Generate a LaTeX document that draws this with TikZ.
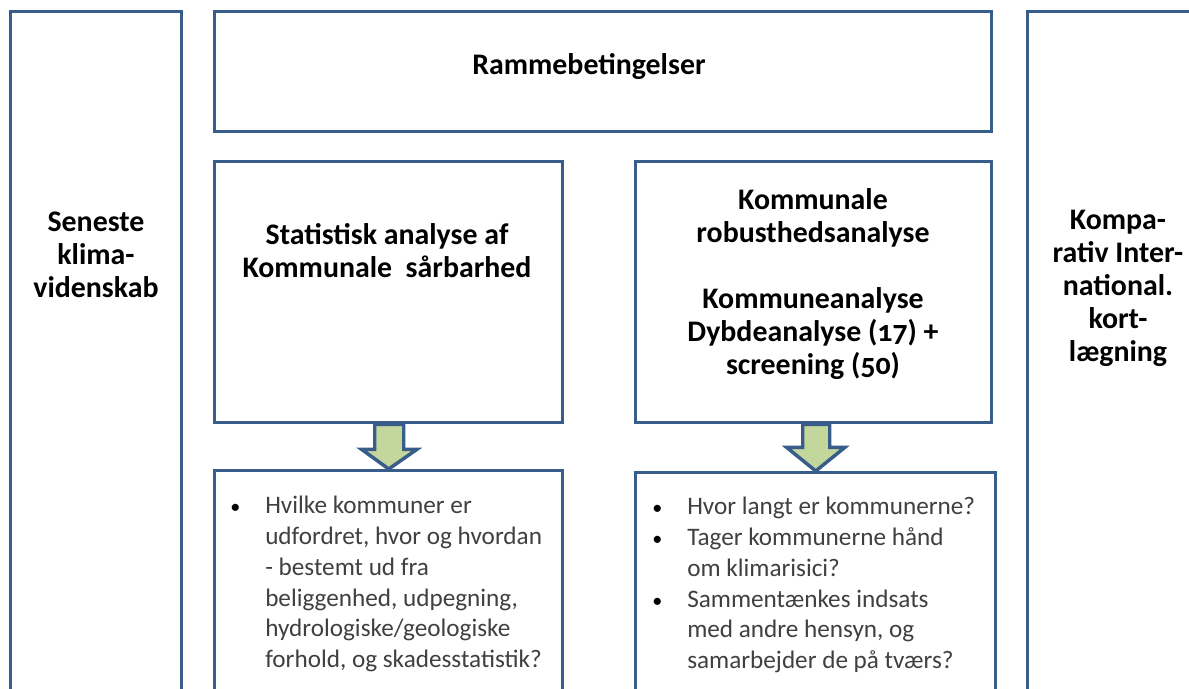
\documentclass[tikz,border=0pt]{standalone}
\usepackage{fontspec}
\setmainfont{Carlito}[Numbers=OldStyle]
\usetikzlibrary{calc}
\newdimen\pxu \pxu=0.75pt
\definecolor{frame}{HTML}{385D8A}
\definecolor{arrowfill}{HTML}{C3D69B}
\definecolor{bodytext}{HTML}{404040}
\newcommand\bul{\makebox[26.25pt][l]{\color{black}\scalebox{0.8}{\textbullet}}}
\newcommand\ind{\hspace*{26.25pt}}
\begin{document}
\begin{tikzpicture}[x=0.75pt,y=-0.75pt,
  panel/.style={draw=frame,line width=2.6pt,line join=miter,rectangle,
    anchor=north west,inner sep=0pt},
  heading/.style={align=center,inner sep=0pt,text=black,
    font=\fontsize{22.4}{24.75}\selectfont\bfseries},
  bodylist/.style={align=left,inner sep=0pt,anchor=north west,text=bodytext,
    font=\fontsize{18.9}{23.1}\selectfont},
  blockarrow/.style={draw=frame,fill=arrowfill,line width=2.6pt,line join=miter}]
\clip (0,0) rectangle (1189,689);
\fill[white] (0,0) rectangle (1189,689);

% frames
\node[panel,minimum width=171\pxu,minimum height=710\pxu] (lb) at (9,10) {};
\node[panel,minimum width=777\pxu,minimum height=120\pxu] (top) at (213,10) {};
\node[panel,minimum width=348\pxu,minimum height=261\pxu] (ml) at (213,160) {};
\node[panel,minimum width=356\pxu,minimum height=261\pxu] (mr) at (634,160) {};
\node[panel,minimum width=348\pxu,minimum height=251\pxu] (bl) at (213,469) {};
\node[panel,minimum width=360\pxu,minimum height=249\pxu] (br) at (634,471) {};
\node[panel,minimum width=204\pxu,minimum height=710\pxu] (rb) at (1026,10) {};

% headings
\node[heading] (ttop) at (589,67) {Rammebetingelser};
\node[heading] (tlb) at (96,255) {Seneste\\klima-\\videnskab};
\node[heading] (tml) at (387,251) {Statistisk analyse af\\Kommunale\ \ sårbarhed};
\node[heading] (tmr) at (813,284) {Kommunale\\robusthedsanalyse\\[24.75pt]Kommuneanalyse\\Dybdeanalyse (17) +\\screening (50)};
\node[heading] (trb) at (1118,288) {Kompa-\\rativ Inter-\\national.\\kort-\\lægning};

% block arrows between the rows
\draw[blockarrow] ($(ml.south)+(-14,0)$) -- ++(0,25) -- ++(-13,0)
  -- (bl.north) -- ($(ml.south)+(28,25)$) -- ++(-13,0) -- ($(ml.south)+(15,0)$) -- cycle;
\draw[blockarrow] ($(mr.south)+(-11,0)$) -- ++(0,23) -- ++(-16,0)
  -- (br.north) -- ($(mr.south)+(31,23)$) -- ++(-15,0) -- ($(mr.south)+(16,0)$) -- cycle;

% bullet lists
\node[bodylist] (lbl) at (230,496) {\bul Hvilke kommuner er\\
  \ind udfordret, hvor og hvordan\\
  \ind - bestemt ud fra\\
  \ind beliggenhed, udpegning,\\
  \ind hydrologiske/geologiske\\
  \ind forhold, og skadesstatistik?};
\node[bodylist] (lbr) at (652,497) {\bul Hvor langt er kommunerne?\\
  \bul Tager kommunerne hånd\\
  \ind om klimarisici?\\
  \bul Sammentænkes indsats\\
  \ind med andre hensyn, og\\
  \ind samarbejder de på tværs?};
\end{tikzpicture}
\end{document}
